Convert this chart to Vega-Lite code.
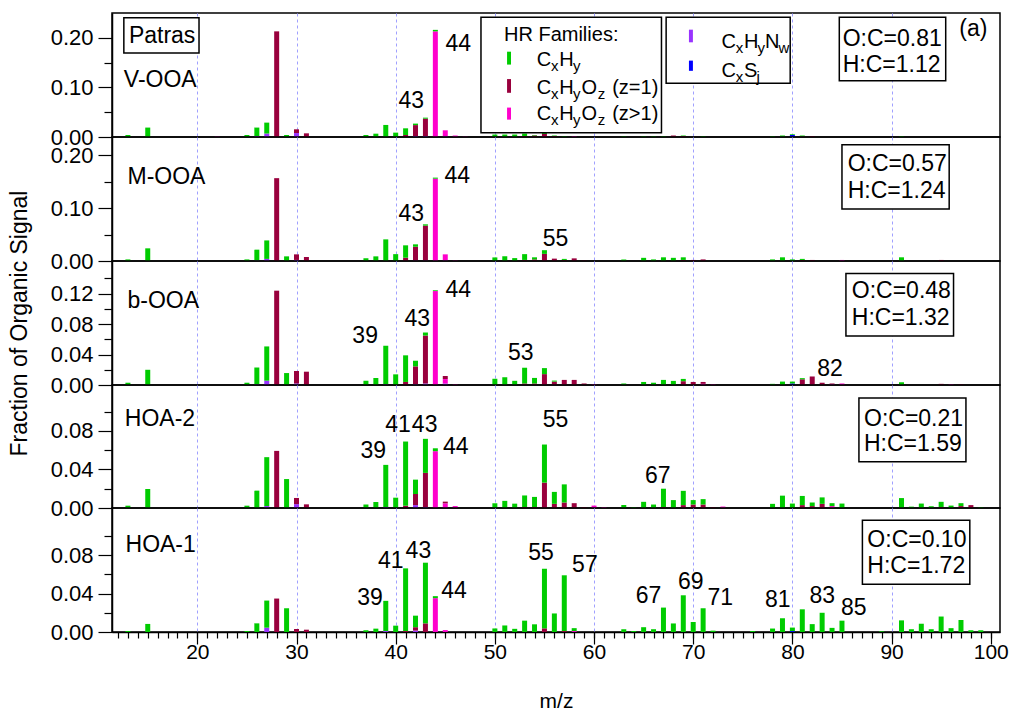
{
"$schema": "https://vega.github.io/schema/vega-lite/v6.json",
"padding": {"left": 7, "top": 12, "right": 10, "bottom": 10},
"spacing": 0,
"bounds": "flush",
"resolve": {"scale": {"y": "independent"}},
"config": {
 "font": "Liberation Sans",
 "view": {"stroke": "black", "strokeWidth": 1.5},
 "axis": {"labelFont": "Liberation Sans", "titleFont": "Liberation Sans", "labelColor": "black", "titleColor": "black", "domainColor": "black", "tickColor": "black", "tickWidth": 1.2, "domainWidth": 1.5, "titleFontWeight": "normal", "gridColor": "#a0a0ff", "gridDash": [3, 3], "gridWidth": 1, "labelFlush": false, "labelOverlap": false},
 "text": {"font": "Liberation Sans"}
},
"datasets": {
 "b1": [{"m":13,"f":"CxHy","v":0.004},{"m":15,"f":"CxHy","v":0.019},{"m":22,"f":"CxHyO2","v":0.001},{"m":25,"f":"CxHy","v":0.004},{"m":26,"f":"CxHyN","v":0.002},{"m":26,"f":"CxHy","v":0.017},{"m":27,"f":"CxHyN","v":0.007},{"m":27,"f":"CxHy","v":0.022},{"m":28,"f":"CxHyO1","v":0.213},{"m":29,"f":"CxHy","v":0.004},{"m":30,"f":"CxHyN","v":0.008},{"m":30,"f":"CxHyO1","v":0.0075},{"m":31,"f":"CxHyO1","v":0.0074},{"m":37,"f":"CxHy","v":0.004},{"m":38,"f":"CxHy","v":0.0067},{"m":39,"f":"CxHy","v":0.0243},{"m":40,"f":"CxHy","v":0.0088},{"m":41,"f":"CxHyO1","v":0.004},{"m":41,"f":"CxHy","v":0.0135},{"m":42,"f":"CxHyN","v":0.002},{"m":42,"f":"CxHyO1","v":0.022},{"m":42,"f":"CxHy","v":0.003},{"m":43,"f":"CxHyN","v":0.002},{"m":43,"f":"CxHyO1","v":0.035},{"m":43,"f":"CxHy","v":0.002},{"m":44,"f":"CxHyO2","v":0.213},{"m":44,"f":"CxHy","v":0.003},{"m":45,"f":"CxHyN","v":0.0015},{"m":45,"f":"CxHyO2","v":0.012},{"m":46,"f":"CxHyO2","v":0.003},{"m":47,"f":"CxHyO2","v":0.001},{"m":50,"f":"CxHy","v":0.005},{"m":51,"f":"CxHy","v":0.005},{"m":52,"f":"CxHy","v":0.005},{"m":53,"f":"CxHyO1","v":0.002},{"m":53,"f":"CxHy","v":0.005},{"m":54,"f":"CxHyO1","v":0.003},{"m":54,"f":"CxHy","v":0.001},{"m":55,"f":"CxHyO1","v":0.006},{"m":55,"f":"CxHy","v":0.002},{"m":56,"f":"CxHyO1","v":0.002},{"m":56,"f":"CxHy","v":0.001},{"m":57,"f":"CxHy","v":0.002},{"m":58,"f":"CxHyO2","v":0.002},{"m":63,"f":"CxHy","v":0.002},{"m":65,"f":"CxHy","v":0.002},{"m":66,"f":"CxHy","v":0.002},{"m":67,"f":"CxHy","v":0.002},{"m":68,"f":"CxHyO1","v":0.003},{"m":69,"f":"CxHyO1","v":0.002},{"m":69,"f":"CxHy","v":0.001},{"m":71,"f":"CxHy","v":0.002},{"m":78,"f":"CxHy","v":0.002},{"m":79,"f":"CxHy","v":0.003},{"m":80,"f":"CxS","v":0.004},{"m":80,"f":"CxHy","v":0.0015},{"m":81,"f":"CxHyO1","v":0.001},{"m":81,"f":"CxHy","v":0.002},{"m":82,"f":"CxHyO1","v":0.002},{"m":91,"f":"CxHy","v":0.002}],
 "b2": [{"m":13,"f":"CxHy","v":0.003},{"m":15,"f":"CxHy","v":0.024},{"m":25,"f":"CxHy","v":0.003},{"m":26,"f":"CxHyN","v":0.001},{"m":26,"f":"CxHy","v":0.0205},{"m":27,"f":"CxHyN","v":0.004},{"m":27,"f":"CxHy","v":0.035},{"m":28,"f":"CxHyO1","v":0.157},{"m":29,"f":"CxHy","v":0.0088},{"m":30,"f":"CxHyN","v":0.002},{"m":30,"f":"CxHyO1","v":0.0106},{"m":31,"f":"CxHyO1","v":0.0076},{"m":37,"f":"CxHy","v":0.005},{"m":38,"f":"CxHy","v":0.0088},{"m":39,"f":"CxHy","v":0.041},{"m":40,"f":"CxHy","v":0.013},{"m":41,"f":"CxHyO1","v":0.0063},{"m":41,"f":"CxHy","v":0.0234},{"m":42,"f":"CxHyN","v":0.001},{"m":42,"f":"CxHyO1","v":0.026},{"m":42,"f":"CxHy","v":0.0046},{"m":43,"f":"CxHyN","v":0.001},{"m":43,"f":"CxHyO1","v":0.066},{"m":43,"f":"CxHy","v":0.0025},{"m":44,"f":"CxHyO2","v":0.156},{"m":44,"f":"CxHy","v":0.002},{"m":45,"f":"CxHyN","v":0.001},{"m":45,"f":"CxHyO2","v":0.0116},{"m":46,"f":"CxHyO2","v":0.001},{"m":50,"f":"CxHy","v":0.0068},{"m":51,"f":"CxHy","v":0.009},{"m":52,"f":"CxHy","v":0.0055},{"m":53,"f":"CxHyO1","v":0.002},{"m":53,"f":"CxHy","v":0.011},{"m":54,"f":"CxHyO1","v":0.003},{"m":54,"f":"CxHy","v":0.004},{"m":55,"f":"CxHyO1","v":0.0135},{"m":55,"f":"CxHy","v":0.007},{"m":56,"f":"CxHyO1","v":0.0045},{"m":57,"f":"CxHyO1","v":0.002},{"m":57,"f":"CxHy","v":0.002},{"m":58,"f":"CxHyO1","v":0.005},{"m":59,"f":"CxHyO1","v":0.001},{"m":63,"f":"CxHy","v":0.003},{"m":65,"f":"CxHy","v":0.006},{"m":66,"f":"CxHy","v":0.003},{"m":67,"f":"CxHy","v":0.007},{"m":68,"f":"CxHy","v":0.006},{"m":69,"f":"CxHyO1","v":0.002},{"m":69,"f":"CxHy","v":0.005},{"m":70,"f":"CxHyO1","v":0.002},{"m":71,"f":"CxHyO1","v":0.003},{"m":78,"f":"CxHy","v":0.003},{"m":79,"f":"CxHy","v":0.007},{"m":80,"f":"CxHy","v":0.003},{"m":81,"f":"CxHyO1","v":0.002},{"m":81,"f":"CxHy","v":0.002},{"m":82,"f":"CxHyO1","v":0.002},{"m":85,"f":"CxHyO2","v":0.002},{"m":91,"f":"CxHy","v":0.007},{"m":95,"f":"CxHyO1","v":0.002}],
 "b3": [{"m":13,"f":"CxHy","v":0.003},{"m":15,"f":"CxHy","v":0.02},{"m":25,"f":"CxHy","v":0.003},{"m":26,"f":"CxHyN","v":0.001},{"m":26,"f":"CxHy","v":0.022},{"m":27,"f":"CxHyN","v":0.0057},{"m":27,"f":"CxHy","v":0.045},{"m":28,"f":"CxHyO1","v":0.124},{"m":29,"f":"CxHy","v":0.0157},{"m":30,"f":"CxHyN","v":0.002},{"m":30,"f":"CxHyO1","v":0.0164},{"m":31,"f":"CxHyO1","v":0.0175},{"m":37,"f":"CxHy","v":0.0057},{"m":38,"f":"CxHy","v":0.0092},{"m":39,"f":"CxHyN","v":0.001},{"m":39,"f":"CxHy","v":0.0506},{"m":40,"f":"CxHy","v":0.014},{"m":41,"f":"CxHyO1","v":0.004},{"m":41,"f":"CxHy","v":0.035},{"m":42,"f":"CxHyN","v":0.001},{"m":42,"f":"CxHyO1","v":0.0235},{"m":42,"f":"CxHy","v":0.0074},{"m":43,"f":"CxHyN","v":0.002},{"m":43,"f":"CxHyO1","v":0.063},{"m":43,"f":"CxHy","v":0.004},{"m":44,"f":"CxHyO2","v":0.1235},{"m":44,"f":"CxHy","v":0.001},{"m":45,"f":"CxHyN","v":0.002},{"m":45,"f":"CxHyO1","v":0.004},{"m":45,"f":"CxHyO2","v":0.0058},{"m":46,"f":"CxHyO2","v":0.001},{"m":50,"f":"CxHy","v":0.0082},{"m":51,"f":"CxHy","v":0.0102},{"m":52,"f":"CxHy","v":0.0055},{"m":53,"f":"CxHyO1","v":0.002},{"m":53,"f":"CxHy","v":0.0207},{"m":54,"f":"CxHyO1","v":0.002},{"m":54,"f":"CxHy","v":0.0073},{"m":55,"f":"CxHyO1","v":0.0143},{"m":55,"f":"CxHy","v":0.0079},{"m":56,"f":"CxHyO1","v":0.0045},{"m":56,"f":"CxHy","v":0.0013},{"m":57,"f":"CxHyO1","v":0.0067},{"m":58,"f":"CxHyO1","v":0.0067},{"m":59,"f":"CxHyO1","v":0.002},{"m":60,"f":"CxHyO2","v":0.001},{"m":63,"f":"CxHy","v":0.002},{"m":65,"f":"CxHy","v":0.004},{"m":66,"f":"CxHy","v":0.003},{"m":67,"f":"CxHy","v":0.0067},{"m":68,"f":"CxHy","v":0.0054},{"m":69,"f":"CxHyO1","v":0.005},{"m":69,"f":"CxHy","v":0.003},{"m":70,"f":"CxHyO1","v":0.004},{"m":71,"f":"CxHyO1","v":0.0025},{"m":71,"f":"CxHyO2","v":0.0015},{"m":72,"f":"CxHyO2","v":0.001},{"m":78,"f":"CxHy","v":0.0015},{"m":79,"f":"CxHy","v":0.0045},{"m":80,"f":"CxS","v":0.002},{"m":80,"f":"CxHy","v":0.0025},{"m":81,"f":"CxHyO1","v":0.0075},{"m":81,"f":"CxHy","v":0.0015},{"m":82,"f":"CxHyO1","v":0.0112},{"m":83,"f":"CxHyO1","v":0.003},{"m":84,"f":"CxHyO1","v":0.001},{"m":84,"f":"CxHyO2","v":0.001},{"m":85,"f":"CxHyO2","v":0.002},{"m":91,"f":"CxHy","v":0.0036},{"m":95,"f":"CxHyO1","v":0.0015},{"m":96,"f":"CxHyO2","v":0.001},{"m":97,"f":"CxHyO1","v":0.001}],
 "b4": [{"m":13,"f":"CxHy","v":0.0024},{"m":15,"f":"CxHy","v":0.0197},{"m":25,"f":"CxHy","v":0.0024},{"m":26,"f":"CxHy","v":0.018},{"m":27,"f":"CxHyN","v":0.002},{"m":27,"f":"CxHy","v":0.0507},{"m":28,"f":"CxHyO1","v":0.0592},{"m":29,"f":"CxHy","v":0.03},{"m":30,"f":"CxHyN","v":0.004},{"m":30,"f":"CxHyO1","v":0.0064},{"m":31,"f":"CxHyO1","v":0.0038},{"m":37,"f":"CxHy","v":0.0035},{"m":38,"f":"CxHy","v":0.0062},{"m":39,"f":"CxHyN","v":0.001},{"m":39,"f":"CxHy","v":0.0437},{"m":40,"f":"CxHy","v":0.0107},{"m":41,"f":"CxHyO1","v":0.0024},{"m":41,"f":"CxHy","v":0.0665},{"m":42,"f":"CxHyN","v":0.003},{"m":42,"f":"CxHyO1","v":0.0115},{"m":42,"f":"CxHy","v":0.0149},{"m":43,"f":"CxHyN","v":0.001},{"m":43,"f":"CxHyO1","v":0.0354},{"m":43,"f":"CxHy","v":0.0353},{"m":44,"f":"CxHyO2","v":0.0589},{"m":44,"f":"CxHy","v":0.003},{"m":45,"f":"CxHyO1","v":0.002},{"m":45,"f":"CxHyO2","v":0.0046},{"m":46,"f":"CxHyO2","v":0.002},{"m":50,"f":"CxHy","v":0.0049},{"m":51,"f":"CxHy","v":0.0074},{"m":52,"f":"CxHy","v":0.0045},{"m":53,"f":"CxHyO1","v":0.001},{"m":53,"f":"CxHy","v":0.012},{"m":54,"f":"CxHyO1","v":0.001},{"m":54,"f":"CxHy","v":0.0105},{"m":55,"f":"CxHyO1","v":0.0263},{"m":55,"f":"CxHy","v":0.0395},{"m":56,"f":"CxHyO1","v":0.0043},{"m":56,"f":"CxHy","v":0.0124},{"m":57,"f":"CxHyO1","v":0.0057},{"m":57,"f":"CxHy","v":0.0188},{"m":58,"f":"CxHyO1","v":0.005},{"m":59,"f":"CxHyO1","v":0.001},{"m":60,"f":"CxHyO2","v":0.0025},{"m":61,"f":"CxHyO2","v":0.001},{"m":63,"f":"CxHy","v":0.0032},{"m":64,"f":"CxHy","v":0.001},{"m":65,"f":"CxHy","v":0.0064},{"m":66,"f":"CxHy","v":0.0036},{"m":67,"f":"CxHyO1","v":0.001},{"m":67,"f":"CxHy","v":0.019},{"m":68,"f":"CxHy","v":0.0082},{"m":69,"f":"CxHyO1","v":0.003},{"m":69,"f":"CxHy","v":0.0148},{"m":70,"f":"CxHyO1","v":0.0036},{"m":70,"f":"CxHy","v":0.0046},{"m":71,"f":"CxHyO1","v":0.0036},{"m":71,"f":"CxHy","v":0.0056},{"m":72,"f":"CxHyO1","v":0.001},{"m":73,"f":"CxHyO2","v":0.0015},{"m":78,"f":"CxHy","v":0.0043},{"m":79,"f":"CxHy","v":0.0128},{"m":80,"f":"CxHy","v":0.0046},{"m":81,"f":"CxHyO1","v":0.003},{"m":81,"f":"CxHy","v":0.0095},{"m":82,"f":"CxHyO1","v":0.002},{"m":82,"f":"CxHy","v":0.0037},{"m":83,"f":"CxHyO1","v":0.0043},{"m":83,"f":"CxHy","v":0.0067},{"m":84,"f":"CxHyO2","v":0.002},{"m":84,"f":"CxHy","v":0.003},{"m":85,"f":"CxHy","v":0.0046},{"m":91,"f":"CxHy","v":0.0103},{"m":92,"f":"CxHy","v":0.0014},{"m":93,"f":"CxHy","v":0.0046},{"m":94,"f":"CxHy","v":0.0018},{"m":95,"f":"CxHyO1","v":0.001},{"m":95,"f":"CxHy","v":0.0054},{"m":96,"f":"CxHy","v":0.0025},{"m":97,"f":"CxHyO1","v":0.002},{"m":97,"f":"CxHy","v":0.003},{"m":98,"f":"CxHyO1","v":0.003},{"m":99,"f":"CxHy","v":0.001}],
 "b5": [{"m":13,"f":"CxHy","v":0.001},{"m":15,"f":"CxHy","v":0.0084},{"m":25,"f":"CxHy","v":0.001},{"m":26,"f":"CxHy","v":0.009},{"m":27,"f":"CxHyN","v":0.0045},{"m":27,"f":"CxHy","v":0.0282},{"m":28,"f":"CxHyO1","v":0.0348},{"m":29,"f":"CxHy","v":0.0247},{"m":30,"f":"CxHyO1","v":0.0031},{"m":31,"f":"CxHyO1","v":0.0024},{"m":37,"f":"CxHy","v":0.0017},{"m":38,"f":"CxHy","v":0.0035},{"m":39,"f":"CxHyN","v":0.001},{"m":39,"f":"CxHy","v":0.0314},{"m":40,"f":"CxHy","v":0.0066},{"m":41,"f":"CxHyO1","v":0.001},{"m":41,"f":"CxHy","v":0.0652},{"m":42,"f":"CxHyN","v":0.0015},{"m":42,"f":"CxHyO1","v":0.0035},{"m":42,"f":"CxHy","v":0.012},{"m":43,"f":"CxHyO1","v":0.009},{"m":43,"f":"CxHy","v":0.0631},{"m":44,"f":"CxHyO2","v":0.0352},{"m":44,"f":"CxHy","v":0.0021},{"m":45,"f":"CxHyO2","v":0.002},{"m":50,"f":"CxHy","v":0.0037},{"m":51,"f":"CxHy","v":0.0068},{"m":52,"f":"CxHy","v":0.0033},{"m":53,"f":"CxHy","v":0.0118},{"m":54,"f":"CxHy","v":0.008},{"m":55,"f":"CxHyO1","v":0.0038},{"m":55,"f":"CxHy","v":0.062},{"m":56,"f":"CxHy","v":0.0193},{"m":57,"f":"CxHyO1","v":0.001},{"m":57,"f":"CxHy","v":0.058},{"m":58,"f":"CxHyO2","v":0.001},{"m":58,"f":"CxHy","v":0.003},{"m":63,"f":"CxHy","v":0.0029},{"m":64,"f":"CxHy","v":0.001},{"m":65,"f":"CxHy","v":0.005},{"m":66,"f":"CxHy","v":0.0029},{"m":67,"f":"CxHy","v":0.0254},{"m":68,"f":"CxHy","v":0.0089},{"m":69,"f":"CxHy","v":0.0382},{"m":70,"f":"CxHy","v":0.0104},{"m":71,"f":"CxHy","v":0.0247},{"m":72,"f":"CxHy","v":0.0014},{"m":76,"f":"CxHy","v":0.001},{"m":78,"f":"CxHy","v":0.0036},{"m":79,"f":"CxHy","v":0.0143},{"m":80,"f":"CxS","v":0.001},{"m":80,"f":"CxHy","v":0.0036},{"m":81,"f":"CxHy","v":0.0236},{"m":82,"f":"CxHy","v":0.0082},{"m":83,"f":"CxHy","v":0.02},{"m":84,"f":"CxHy","v":0.0043},{"m":85,"f":"CxHy","v":0.0118},{"m":89,"f":"CxHy","v":0.0007},{"m":91,"f":"CxHy","v":0.0121},{"m":92,"f":"CxHy","v":0.0029},{"m":93,"f":"CxHy","v":0.0086},{"m":94,"f":"CxHy","v":0.0029},{"m":95,"f":"CxHy","v":0.0161},{"m":96,"f":"CxHy","v":0.004},{"m":97,"f":"CxHy","v":0.0125},{"m":98,"f":"CxHy","v":0.0018},{"m":99,"f":"CxHy","v":0.0018}],
 "notes": [
  {"p":"V-OOA","t":"V-OOA","m":12.59,"v":0.1006},{"p":"V-OOA","t":"Patras","m":13.1,"v":0.1897},{"p":"V-OOA","t":"43","m":40.28,"v":0.058},{"p":"V-OOA","t":"44","m":45.03,"v":0.1727},{"p":"V-OOA","t":"O:C=0.81","m":85.07,"v":0.1842},{"p":"V-OOA","t":"H:C=1.12","m":85.07,"v":0.132},{"p":"V-OOA","t":"(a)","m":96.83,"v":0.2045},
  {"p":"M-OOA","t":"M-OOA","m":12.96,"v":0.1454},{"p":"M-OOA","t":"43","m":40.28,"v":0.0758},{"p":"M-OOA","t":"44","m":44.93,"v":0.1478},{"p":"M-OOA","t":"55","m":54.83,"v":0.0286},{"p":"M-OOA","t":"O:C=0.57","m":85.58,"v":0.17},{"p":"M-OOA","t":"H:C=1.24","m":85.58,"v":0.1194},
  {"p":"b-OOA","t":"b-OOA","m":12.96,"v":0.1006},{"p":"b-OOA","t":"39","m":35.63,"v":0.0547},{"p":"b-OOA","t":"43","m":40.88,"v":0.0774},{"p":"b-OOA","t":"44","m":45.03,"v":0.1158},{"p":"b-OOA","t":"53","m":51.32,"v":0.0328},{"p":"b-OOA","t":"82","m":82.51,"v":0.0114},{"p":"b-OOA","t":"O:C=0.48","m":85.99,"v":0.1146},{"p":"b-OOA","t":"H:C=1.32","m":85.99,"v":0.0787},
  {"p":"HOA-2","t":"HOA-2","m":12.69,"v":0.0852},{"p":"HOA-2","t":"39","m":36.46,"v":0.052},{"p":"HOA-2","t":"41","m":38.95,"v":0.0783},{"p":"HOA-2","t":"43","m":41.63,"v":0.0783},{"p":"HOA-2","t":"44","m":44.77,"v":0.0555},{"p":"HOA-2","t":"55","m":54.83,"v":0.0842},{"p":"HOA-2","t":"67","m":65.13,"v":0.0262},{"p":"HOA-2","t":"O:C=0.21","m":87.22,"v":0.0855},{"p":"HOA-2","t":"H:C=1.59","m":87.22,"v":0.0592},
  {"p":"HOA-1","t":"HOA-1","m":12.76,"v":0.0836},{"p":"HOA-1","t":"39","m":36.12,"v":0.0286},{"p":"HOA-1","t":"41","m":38.22,"v":0.0669},{"p":"HOA-1","t":"43","m":41.0,"v":0.0774},{"p":"HOA-1","t":"44","m":44.6,"v":0.0355},{"p":"HOA-1","t":"55","m":53.36,"v":0.0745},{"p":"HOA-1","t":"57","m":57.79,"v":0.0627},{"p":"HOA-1","t":"67","m":64.2,"v":0.0305},{"p":"HOA-1","t":"69","m":68.46,"v":0.0448},{"p":"HOA-1","t":"71","m":71.43,"v":0.0277},{"p":"HOA-1","t":"81","m":77.23,"v":0.0259},{"p":"HOA-1","t":"83","m":81.72,"v":0.0305},{"p":"HOA-1","t":"85","m":84.9,"v":0.0181},{"p":"HOA-1","t":"O:C=0.10","m":87.56,"v":0.0889},{"p":"HOA-1","t":"H:C=1.72","m":87.56,"v":0.0617}
 ],
 "boxes": [
  {"p":"V-OOA","x1":12.59,"x2":20.17,"y1":0.1694,"y2":0.2403},{"p":"V-OOA","x1":48.6,"x2":66.8,"y1":0.0087,"y2":0.2413},{"p":"V-OOA","x1":67.27,"x2":79.78,"y1":0.1085,"y2":0.2413},{"p":"V-OOA","x1":84.73,"x2":95.46,"y1":0.1132,"y2":0.2413},
  {"p":"M-OOA","x1":85.0,"x2":95.81,"y1":0.0987,"y2":0.2202},
  {"p":"b-OOA","x1":85.4,"x2":96.25,"y1":0.0644,"y2":0.1467},
  {"p":"HOA-2","x1":86.71,"x2":97.5,"y1":0.0479,"y2":0.1139},
  {"p":"HOA-1","x1":87.06,"x2":97.89,"y1":0.0496,"y2":0.1162}
 ],
 "legSym": [{"f":"CxHy","x1":51.23,"x2":51.63,"y1":0.146,"y2":0.172},{"f":"CxHyO1","x1":51.23,"x2":51.63,"y1":0.0891,"y2":0.1168},{"f":"CxHyO2","x1":51.23,"x2":51.63,"y1":0.035,"y2":0.0593},{"f":"CxHyN","x1":69.57,"x2":69.97,"y1":0.1909,"y2":0.2164},{"f":"CxS","x1":69.57,"x2":69.97,"y1":0.1334,"y2":0.154}],
 "legMain": [{"t":"HR Families:","m":50.92,"v":0.1943},{"t":"C","m":54.22,"v":0.1423},{"t":"H","m":56.5,"v":0.1423},{"t":"C","m":54.22,"v":0.087},{"t":"H","m":56.5,"v":0.087},{"t":"O","m":58.73,"v":0.087},{"t":"(z=1)","m":61.83,"v":0.087},{"t":"C","m":54.22,"v":0.0336},{"t":"H","m":56.5,"v":0.0336},{"t":"O","m":58.73,"v":0.0336},{"t":"(z>1)","m":61.83,"v":0.0336},{"t":"C","m":72.86,"v":0.1804},{"t":"H","m":75.11,"v":0.1804},{"t":"N","m":77.23,"v":0.1804},{"t":"C","m":72.86,"v":0.1215},{"t":"S","m":75.11,"v":0.1215}],
 "legSub": [{"t":"x","m":55.66,"v":0.1322},{"t":"y","m":57.87,"v":0.1322},{"t":"x","m":55.66,"v":0.0769},{"t":"y","m":57.87,"v":0.0769},{"t":"z","m":60.37,"v":0.0769},{"t":"x","m":55.66,"v":0.0235},{"t":"y","m":57.87,"v":0.0235},{"t":"z","m":60.37,"v":0.0235},{"t":"x","m":74.3,"v":0.1703},{"t":"y","m":76.47,"v":0.1703},{"t":"w","m":78.6,"v":0.1703},{"t":"x","m":74.3,"v":0.1114},{"t":"j","m":76.37,"v":0.1114}]
},
"vconcat": [
 {"width": 888, "height": 124,
  "resolve": {"axis": {"x": "independent", "y": "independent"}},
  "layer": [
   {"data": {"name": "b1"},
    "transform": [{"calculate": "indexof(['CxHyN','CxS','CxHyO2','CxHyO1','CxHy'], datum.f)", "as": "ord"}],
    "mark": {"type": "bar", "size": 5},
    "encoding": {
     "x": {"field": "m", "type": "quantitative", "scale": {"domain": [11.9, 100.43], "nice": false, "zero": false}, "axis": {"orient": "bottom", "values": [20,30,40,50,60,70,80,90], "grid": true, "ticks": false, "labels": false, "domain": false, "title": null}},
     "y": {"field": "v", "type": "quantitative", "stack": "zero", "scale": {"domain": [0, 0.25], "nice": false}, "axis": {"orient": "left", "values": [0, 0.1, 0.2], "format": ".2f", "tickSize": 14, "labelPadding": 5, "labelFontSize": 22, "grid": false, "title": null}},
     "color": {"field": "f", "type": "nominal", "scale": {"domain": ["CxHy","CxHyO1","CxHyO2","CxHyN","CxS"], "range": ["#00cc00","#99003d","#ff00cc","#9933ff","#0000ff"]}, "legend": null},
     "order": {"field": "ord", "type": "quantitative"}
    }},
   {"data": {"name": "boxes"}, "transform": [{"filter": "datum.p === 'V-OOA'"}],
    "mark": {"type": "rect", "fill": "white", "stroke": "black", "strokeWidth": 1.5},
    "encoding": {"x": {"field": "x1", "type": "quantitative", "scale": {"domain": [11.9, 100.43], "nice": false, "zero": false}, "axis": null}, "x2": {"field": "x2"}, "y": {"field": "y1", "type": "quantitative", "scale": {"domain": [0, 0.25], "nice": false}, "axis": null}, "y2": {"field": "y2"}}},
   {"data": {"name": "legSym"},
    "mark": {"type": "rect"},
    "encoding": {"x": {"field": "x1", "type": "quantitative", "scale": {"domain": [11.9, 100.43], "nice": false, "zero": false}, "axis": null}, "x2": {"field": "x2"}, "y": {"field": "y1", "type": "quantitative", "scale": {"domain": [0, 0.25], "nice": false}, "axis": null}, "y2": {"field": "y2"}, "color": {"field": "f", "type": "nominal", "legend": null}}},
   {"data": {"name": "notes"}, "transform": [{"filter": "datum.p === 'V-OOA'"}],
    "mark": {"type": "text", "align": "left", "baseline": "alphabetic", "fontSize": 23, "color": "black"},
    "encoding": {"x": {"field": "m", "type": "quantitative", "scale": {"domain": [11.9, 100.43], "nice": false, "zero": false}, "axis": null}, "y": {"field": "v", "type": "quantitative", "scale": {"domain": [0, 0.25], "nice": false}, "axis": {"orient": "left", "values": [0.05, 0.15], "tickSize": 8, "labels": false, "domain": false, "grid": false, "title": null}}, "text": {"field": "t"}}},
   {"data": {"name": "legMain"},
    "mark": {"type": "text", "align": "left", "baseline": "alphabetic", "fontSize": 20, "color": "black"},
    "encoding": {"x": {"field": "m", "type": "quantitative", "scale": {"domain": [11.9, 100.43], "nice": false, "zero": false}, "axis": null}, "y": {"field": "v", "type": "quantitative", "scale": {"domain": [0, 0.25], "nice": false}, "axis": null}, "text": {"field": "t"}}},
   {"data": {"name": "legSub"},
    "mark": {"type": "text", "align": "left", "baseline": "alphabetic", "fontSize": 15, "color": "black"},
    "encoding": {"x": {"field": "m", "type": "quantitative", "scale": {"domain": [11.9, 100.43], "nice": false, "zero": false}, "axis": null}, "y": {"field": "v", "type": "quantitative", "scale": {"domain": [0, 0.25], "nice": false}, "axis": null}, "text": {"field": "t"}}}
  ]},
 {"width": 888, "height": 124,
  "resolve": {"axis": {"x": "independent", "y": "independent"}},
  "layer": [
   {"data": {"name": "b2"},
    "transform": [{"calculate": "indexof(['CxHyN','CxS','CxHyO2','CxHyO1','CxHy'], datum.f)", "as": "ord"}],
    "mark": {"type": "bar", "size": 5},
    "encoding": {
     "x": {"field": "m", "type": "quantitative", "scale": {"domain": [11.9, 100.43], "nice": false, "zero": false}, "axis": {"orient": "bottom", "values": [20,30,40,50,60,70,80,90], "grid": true, "ticks": false, "labels": false, "domain": false, "title": null}},
     "y": {"field": "v", "type": "quantitative", "stack": "zero", "scale": {"domain": [0, 0.235], "nice": false}, "axis": {"orient": "left", "values": [0, 0.1, 0.2], "format": ".2f", "tickSize": 14, "labelPadding": 5, "labelFontSize": 22, "grid": false, "title": null}},
     "color": {"field": "f", "type": "nominal", "legend": null},
     "order": {"field": "ord", "type": "quantitative"}
    }},
   {"data": {"name": "boxes"}, "transform": [{"filter": "datum.p === 'M-OOA'"}],
    "mark": {"type": "rect", "fill": "white", "stroke": "black", "strokeWidth": 1.5},
    "encoding": {"x": {"field": "x1", "type": "quantitative", "scale": {"domain": [11.9, 100.43], "nice": false, "zero": false}, "axis": null}, "x2": {"field": "x2"}, "y": {"field": "y1", "type": "quantitative", "scale": {"domain": [0, 0.235], "nice": false}, "axis": null}, "y2": {"field": "y2"}}},
   {"data": {"name": "notes"}, "transform": [{"filter": "datum.p === 'M-OOA'"}],
    "mark": {"type": "text", "align": "left", "baseline": "alphabetic", "fontSize": 23, "color": "black"},
    "encoding": {"x": {"field": "m", "type": "quantitative", "scale": {"domain": [11.9, 100.43], "nice": false, "zero": false}, "axis": null}, "y": {"field": "v", "type": "quantitative", "scale": {"domain": [0, 0.235], "nice": false}, "axis": {"orient": "left", "values": [0.05, 0.15], "tickSize": 8, "labels": false, "domain": false, "grid": false, "title": null}}, "text": {"field": "t"}}}
  ]},
 {"width": 888, "height": 124,
  "resolve": {"axis": {"x": "independent", "y": "independent"}},
  "layer": [
   {"data": {"name": "b3"},
    "transform": [{"calculate": "indexof(['CxHyN','CxS','CxHyO2','CxHyO1','CxHy'], datum.f)", "as": "ord"}],
    "mark": {"type": "bar", "size": 5},
    "encoding": {
     "x": {"field": "m", "type": "quantitative", "scale": {"domain": [11.9, 100.43], "nice": false, "zero": false}, "axis": {"orient": "bottom", "values": [20,30,40,50,60,70,80,90], "grid": true, "ticks": false, "labels": false, "domain": false, "title": null}},
     "y": {"field": "v", "type": "quantitative", "stack": "zero", "scale": {"domain": [0, 0.163], "nice": false}, "axis": {"orient": "left", "values": [0, 0.04, 0.08, 0.12], "format": ".2f", "tickSize": 14, "labelPadding": 5, "labelFontSize": 22, "grid": false, "title": "Fraction of Organic Signal", "titleFontSize": 23, "titlePadding": 19}},
     "color": {"field": "f", "type": "nominal", "legend": null},
     "order": {"field": "ord", "type": "quantitative"}
    }},
   {"data": {"name": "boxes"}, "transform": [{"filter": "datum.p === 'b-OOA'"}],
    "mark": {"type": "rect", "fill": "white", "stroke": "black", "strokeWidth": 1.5},
    "encoding": {"x": {"field": "x1", "type": "quantitative", "scale": {"domain": [11.9, 100.43], "nice": false, "zero": false}, "axis": null}, "x2": {"field": "x2"}, "y": {"field": "y1", "type": "quantitative", "scale": {"domain": [0, 0.163], "nice": false}, "axis": null}, "y2": {"field": "y2"}}},
   {"data": {"name": "notes"}, "transform": [{"filter": "datum.p === 'b-OOA'"}],
    "mark": {"type": "text", "align": "left", "baseline": "alphabetic", "fontSize": 23, "color": "black"},
    "encoding": {"x": {"field": "m", "type": "quantitative", "scale": {"domain": [11.9, 100.43], "nice": false, "zero": false}, "axis": null}, "y": {"field": "v", "type": "quantitative", "scale": {"domain": [0, 0.163], "nice": false}, "axis": {"orient": "left", "values": [0.02, 0.06, 0.1, 0.14], "tickSize": 8, "labels": false, "domain": false, "grid": false, "title": null}}, "text": {"field": "t"}}}
  ]},
 {"width": 888, "height": 123,
  "resolve": {"axis": {"x": "independent", "y": "independent"}},
  "layer": [
   {"data": {"name": "b4"},
    "transform": [{"calculate": "indexof(['CxHyN','CxS','CxHyO2','CxHyO1','CxHy'], datum.f)", "as": "ord"}],
    "mark": {"type": "bar", "size": 5},
    "encoding": {
     "x": {"field": "m", "type": "quantitative", "scale": {"domain": [11.9, 100.43], "nice": false, "zero": false}, "axis": {"orient": "bottom", "values": [20,30,40,50,60,70,80,90], "grid": true, "ticks": false, "labels": false, "domain": false, "title": null}},
     "y": {"field": "v", "type": "quantitative", "stack": "zero", "scale": {"domain": [0, 0.1275], "nice": false}, "axis": {"orient": "left", "values": [0, 0.04, 0.08], "format": ".2f", "tickSize": 14, "labelPadding": 5, "labelFontSize": 22, "grid": false, "title": null}},
     "color": {"field": "f", "type": "nominal", "legend": null},
     "order": {"field": "ord", "type": "quantitative"}
    }},
   {"data": {"name": "boxes"}, "transform": [{"filter": "datum.p === 'HOA-2'"}],
    "mark": {"type": "rect", "fill": "white", "stroke": "black", "strokeWidth": 1.5},
    "encoding": {"x": {"field": "x1", "type": "quantitative", "scale": {"domain": [11.9, 100.43], "nice": false, "zero": false}, "axis": null}, "x2": {"field": "x2"}, "y": {"field": "y1", "type": "quantitative", "scale": {"domain": [0, 0.1275], "nice": false}, "axis": null}, "y2": {"field": "y2"}}},
   {"data": {"name": "notes"}, "transform": [{"filter": "datum.p === 'HOA-2'"}],
    "mark": {"type": "text", "align": "left", "baseline": "alphabetic", "fontSize": 23, "color": "black"},
    "encoding": {"x": {"field": "m", "type": "quantitative", "scale": {"domain": [11.9, 100.43], "nice": false, "zero": false}, "axis": null}, "y": {"field": "v", "type": "quantitative", "scale": {"domain": [0, 0.1275], "nice": false}, "axis": {"orient": "left", "values": [0.02, 0.06, 0.1], "tickSize": 8, "labels": false, "domain": false, "grid": false, "title": null}}, "text": {"field": "t"}}}
  ]},
 {"width": 888, "height": 124,
  "resolve": {"axis": {"x": "independent", "y": "independent"}},
  "layer": [
   {"data": {"name": "b5"},
    "transform": [{"calculate": "indexof(['CxHyN','CxS','CxHyO2','CxHyO1','CxHy'], datum.f)", "as": "ord"}],
    "mark": {"type": "bar", "size": 5},
    "encoding": {
     "x": {"field": "m", "type": "quantitative", "scale": {"domain": [11.9, 100.43], "nice": false, "zero": false}, "axis": {"orient": "bottom", "values": [20,30,40,50,60,70,80,90,100], "grid": true, "gridOpacity": {"condition": {"test": "datum.value >= 100", "value": 0}, "value": 1}, "tickSize": 12, "labelPadding": -3, "labelFontSize": 21, "domain": true, "title": "m/z", "titleFontSize": 21, "titlePadding": 28}},
     "y": {"field": "v", "type": "quantitative", "stack": "zero", "scale": {"domain": [0, 0.129], "nice": false}, "axis": {"orient": "left", "values": [0, 0.04, 0.08], "format": ".2f", "tickSize": 14, "labelPadding": 5, "labelFontSize": 22, "grid": false, "title": null}},
     "color": {"field": "f", "type": "nominal", "legend": null},
     "order": {"field": "ord", "type": "quantitative"}
    }},
   {"data": {"name": "boxes"}, "transform": [{"filter": "datum.p === 'HOA-1'"}],
    "mark": {"type": "rect", "fill": "white", "stroke": "black", "strokeWidth": 1.5},
    "encoding": {"x": {"field": "x1", "type": "quantitative", "scale": {"domain": [11.9, 100.43], "nice": false, "zero": false}, "axis": null}, "x2": {"field": "x2"}, "y": {"field": "y1", "type": "quantitative", "scale": {"domain": [0, 0.129], "nice": false}, "axis": null}, "y2": {"field": "y2"}}},
   {"data": {"name": "notes"}, "transform": [{"filter": "datum.p === 'HOA-1'"}],
    "mark": {"type": "text", "align": "left", "baseline": "alphabetic", "fontSize": 23, "color": "black"},
    "encoding": {"x": {"field": "m", "type": "quantitative", "scale": {"domain": [11.9, 100.43], "nice": false, "zero": false}, "axis": {"orient": "bottom", "values": [12,13,14,15,16,17,18,19,20,21,22,23,24,25,26,27,28,29,30,31,32,33,34,35,36,37,38,39,40,41,42,43,44,45,46,47,48,49,50,51,52,53,54,55,56,57,58,59,60,61,62,63,64,65,66,67,68,69,70,71,72,73,74,75,76,77,78,79,80,81,82,83,84,85,86,87,88,89,90,91,92,93,94,95,96,97,98,99,100], "tickSize": 6, "labels": false, "domain": false, "grid": false, "title": null}}, "y": {"field": "v", "type": "quantitative", "scale": {"domain": [0, 0.129], "nice": false}, "axis": {"orient": "left", "values": [0.02, 0.06, 0.1], "tickSize": 8, "labels": false, "domain": false, "grid": false, "title": null}}, "text": {"field": "t"}}}
  ]}
]
}
